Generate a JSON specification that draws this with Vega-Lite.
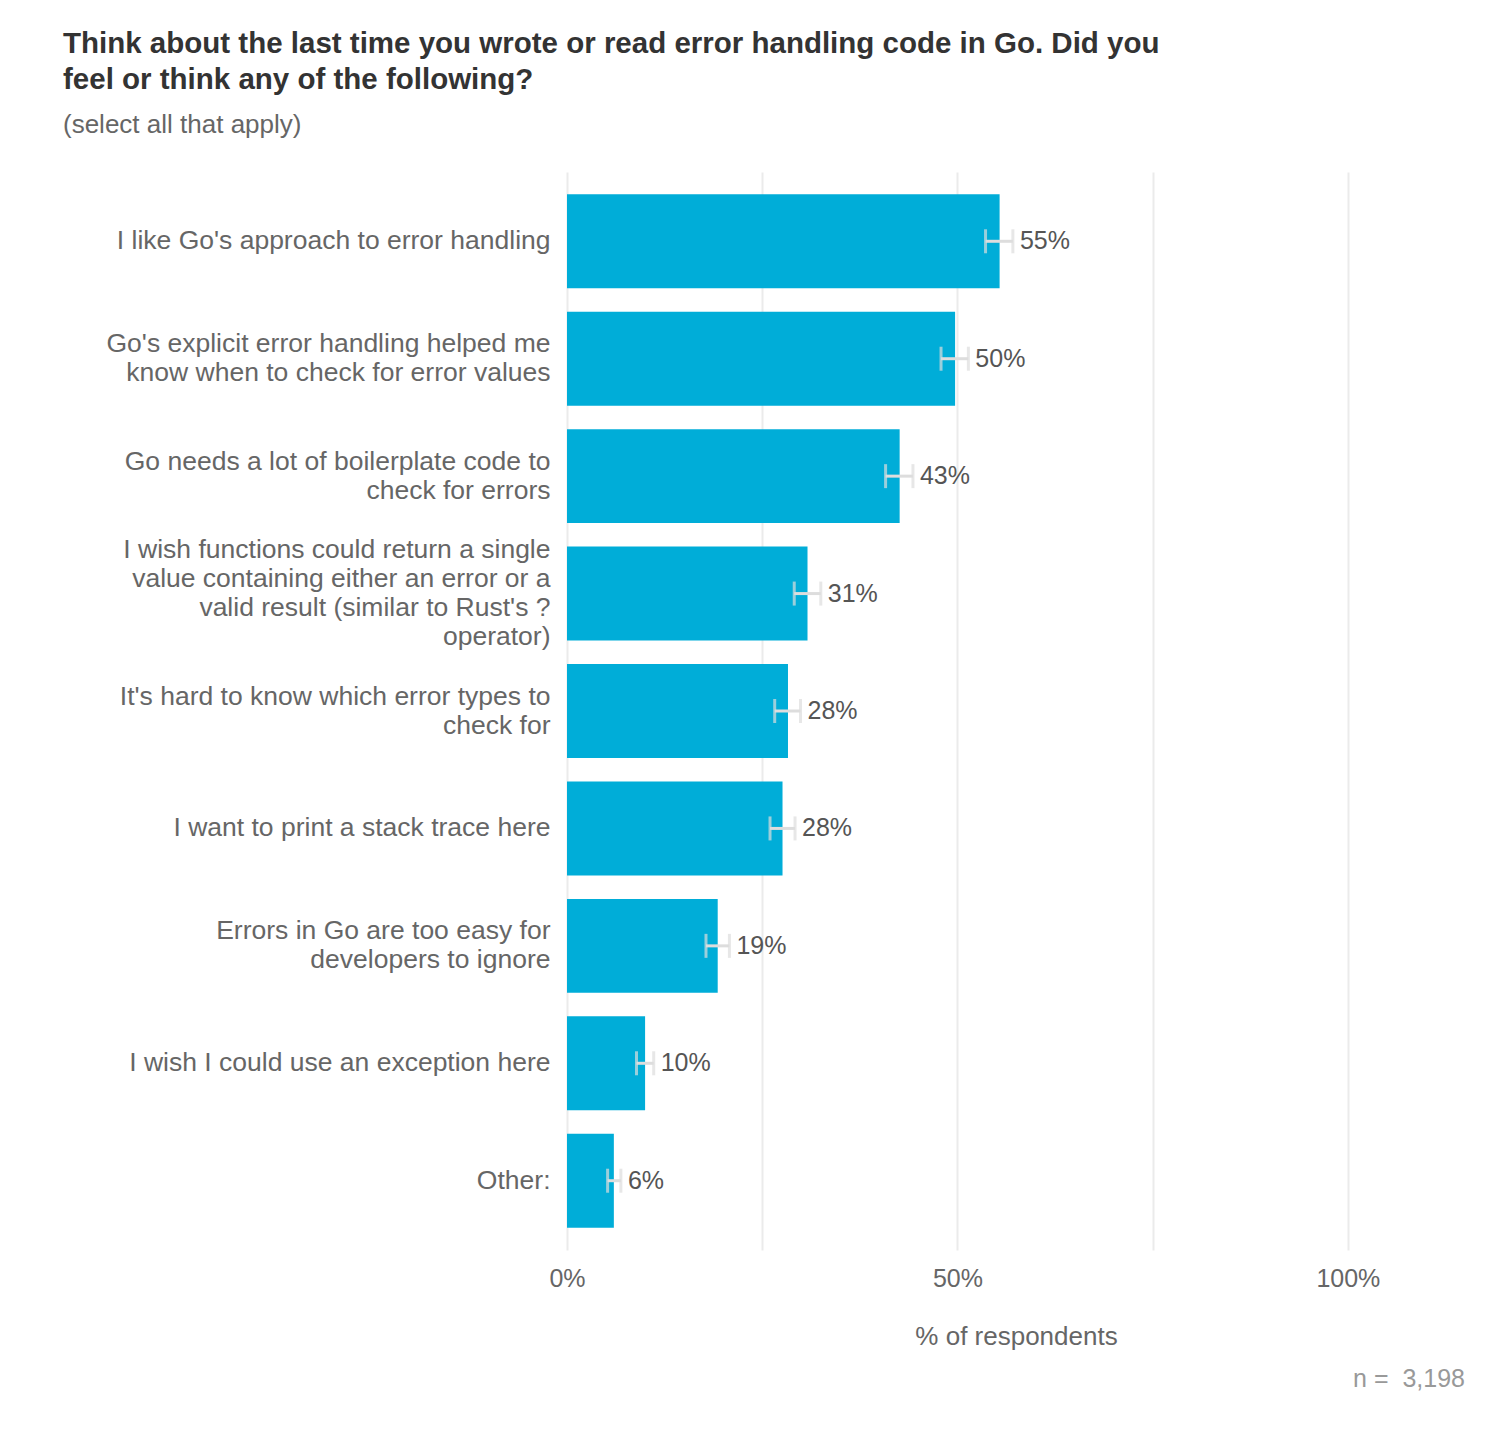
{
  "$schema": "https://vega.github.io/schema/vega-lite/v6.json",
  "autosize": {"type": "none"},
  "width": 898,
  "height": 1078,
  "padding": {"left": 567, "top": 172, "right": 39, "bottom": 191},
  "background": "white",
  "config": {
    "font": "Liberation Sans",
    "view": {"stroke": null}
  },
  "title": {
    "text": ["Think about the last time you wrote or read error handling code in Go. Did you", "feel or think any of the following?"],
    "subtitle": "(select all that apply)",
    "anchor": "start",
    "frame": "group",
    "dx": -504,
    "offset": 33,
    "font": "Liberation Sans",
    "fontSize": 29.5,
    "fontWeight": "bold",
    "color": "#333333",
    "lineHeight": 36,
    "subtitleFont": "Liberation Sans",
    "subtitleFontSize": 26,
    "subtitleColor": "#666666",
    "subtitlePadding": 17
  },
  "data": {
    "values": [
      {"label": "I like Go's approach to error handling", "value": 55.4, "lo": 53.6, "hi": 57.1, "text": "55%", "order": 1},
      {"label": "Go's explicit error handling helped me|know when to check for error values", "value": 49.7, "lo": 47.9, "hi": 51.4, "text": "50%", "order": 2},
      {"label": "Go needs a lot of boilerplate code to|check for errors", "value": 42.6, "lo": 40.8, "hi": 44.3, "text": "43%", "order": 3},
      {"label": "I wish functions could return a single|value containing either an error or a|valid result (similar to Rust's ?|operator)", "value": 30.8, "lo": 29.1, "hi": 32.5, "text": "31%", "order": 4},
      {"label": "It's hard to know which error types to|check for", "value": 28.3, "lo": 26.6, "hi": 29.9, "text": "28%", "order": 5},
      {"label": "I want to print a stack trace here", "value": 27.6, "lo": 26.0, "hi": 29.2, "text": "28%", "order": 6},
      {"label": "Errors in Go are too easy for|developers to ignore", "value": 19.3, "lo": 17.8, "hi": 20.8, "text": "19%", "order": 7},
      {"label": "I wish I could use an exception here", "value": 10.0, "lo": 8.9, "hi": 11.1, "text": "10%", "order": 8},
      {"label": "Other:", "value": 6.0, "lo": 5.2, "hi": 6.9, "text": "6%", "order": 9}
    ]
  },
  "encoding": {
    "y": {
      "field": "label",
      "type": "nominal",
      "sort": {"field": "order", "op": "min", "order": "ascending"},
      "scale": {"paddingInner": 0.2, "paddingOuter": 0.19},
      "axis": {
        "title": null,
        "domain": false,
        "ticks": false,
        "grid": false,
        "labelExpr": "split(datum.label, '|')",
        "labelOffset": {"expr": "-(length(split(datum.value, '|')) - 1) * 14.5"},
        "labelFont": "Liberation Sans",
        "labelFontSize": 26.5,
        "labelColor": "#666666",
        "labelLineHeight": 29,
        "labelPadding": 17,
        "labelLimit": 600
      }
    }
  },
  "layer": [
    {
      "mark": {"type": "bar", "color": "#00ADD8"},
      "encoding": {
        "x": {
          "field": "value",
          "type": "quantitative",
          "scale": {"domain": [0, 115], "nice": false},
          "axis": {
            "values": [0, 25, 50, 75, 100],
            "labelExpr": "datum.value % 50 == 0 ? datum.value + '%' : ''",
            "labelFlush": false,
            "title": "% of respondents",
            "titleFont": "Liberation Sans",
            "titleFontSize": 26,
            "titleFontWeight": "normal",
            "titleColor": "#666666",
            "titlePadding": 32,
            "domain": false,
            "ticks": false,
            "grid": true,
            "gridColor": "#ebebeb",
            "gridWidth": 2,
            "labelFont": "Liberation Sans",
            "labelFontSize": 25,
            "labelColor": "#666666",
            "labelPadding": 16
          }
        }
      }
    },
    {
      "mark": {"type": "rule", "color": "#dddddd", "strokeWidth": 3},
      "encoding": {
        "x": {"field": "lo", "type": "quantitative"},
        "x2": {"field": "hi"}
      }
    },
    {
      "mark": {"type": "tick", "color": "#dddddd", "thickness": 3, "size": 24, "orient": "vertical"},
      "encoding": {
        "x": {"field": "lo", "type": "quantitative"}
      }
    },
    {
      "mark": {"type": "tick", "color": "#dddddd", "thickness": 3, "size": 24, "orient": "vertical"},
      "encoding": {
        "x": {"field": "hi", "type": "quantitative"}
      }
    },
    {
      "mark": {"type": "text", "align": "left", "baseline": "middle", "dx": 7, "font": "Liberation Sans", "fontSize": 25, "color": "#555555"},
      "encoding": {
        "x": {"field": "hi", "type": "quantitative"},
        "text": {"field": "text"}
      }
    },
    {
      "data": {"values": [{"note": "n =\u00a0 3,198", "x": 115, "label": "Other:"}]},
      "mark": {"type": "text", "align": "right", "baseline": "middle", "dy": 198, "font": "Liberation Sans", "fontSize": 25, "color": "#999999"},
      "encoding": {
        "x": {"field": "x", "type": "quantitative"},
        "text": {"field": "note"}
      }
    }
  ]
}
